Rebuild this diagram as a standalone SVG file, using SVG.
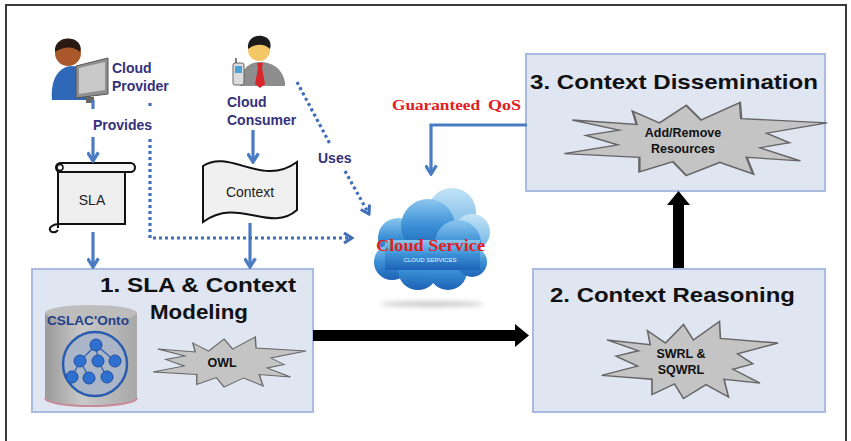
<svg xmlns="http://www.w3.org/2000/svg" width="851" height="441" viewBox="0 0 851 441">
  <defs>
    <style>
      .actor { font-family: "Liberation Sans", Arial, sans-serif; font-weight: bold; font-size: 14px; fill: #35307c; }
      .title { font-family: "Liberation Sans", Arial, sans-serif; font-weight: bold; font-size: 21px; fill: #111; }
      .burst-text { font-family: "Liberation Sans", Arial, sans-serif; font-weight: bold; font-size: 12.5px; fill: #111; text-anchor: middle; }
      .doc-text { font-family: "Liberation Sans", Arial, sans-serif; font-size: 14px; fill: #222; text-anchor: middle; }
      .red-serif { font-family: "Liberation Serif", "Times New Roman", serif; font-weight: bold; fill: #e0201c; }
      .box { fill: #dfe5f1; stroke: #a9bbe0; stroke-width: 2; }
      .burst { fill: #c4c4c4; stroke: #666; stroke-width: 1.8; }
      .flow { fill: none; stroke: #4a7cc3; stroke-width: 3.2; }
      .dots { fill: none; stroke: #3f6db8; stroke-width: 3.2; stroke-dasharray: 3 3; }
    </style>
    <marker id="chev" viewBox="0 0 12 12" refX="10" refY="6" markerWidth="13" markerHeight="13" markerUnits="userSpaceOnUse" orient="auto">
      <path d="M2,1 L10,6 L2,11" fill="none" stroke="#4a7cc3" stroke-width="3"/>
    </marker>
    <marker id="chevDot" viewBox="0 0 12 12" refX="10" refY="6" markerWidth="12" markerHeight="12" markerUnits="userSpaceOnUse" orient="auto">
      <path d="M2,1 L10,6 L2,11" fill="none" stroke="#3f6db8" stroke-width="3"/>
    </marker>
    <path id="burstShape" d="M-45,-38 L-25,-22 L-5,-46 L6,-26 L35,-50 L36,-28 L100,-22 L55,-8 L72,5 L50,12 L80,30 L40,25 L45,48 L20,32 L-5,50 L-15,31 L-40,45 L-40,25 L-96,20 L-56,8 L-80,-5 L-55,-12 L-90,-26 L-42,-20 Z"/>
    <linearGradient id="cloudFront" x1="0" y1="0" x2="0" y2="1">
      <stop offset="0" stop-color="#8cc6ee"/>
      <stop offset="0.5" stop-color="#3a8fd6"/>
      <stop offset="1" stop-color="#1d62b5"/>
    </linearGradient>
    <linearGradient id="cloudBack" x1="0" y1="0" x2="0" y2="1">
      <stop offset="0" stop-color="#c2e3f7"/>
      <stop offset="1" stop-color="#6fb3e4"/>
    </linearGradient>
    <linearGradient id="cyl" x1="0" y1="0" x2="1" y2="0">
      <stop offset="0" stop-color="#9a9a9a"/>
      <stop offset="0.4" stop-color="#c8c8c8"/>
      <stop offset="1" stop-color="#a8a8a8"/>
    </linearGradient>
    <filter id="soft" x="-20%" y="-200%" width="140%" height="500%">
      <feGaussianBlur stdDeviation="2.5"/>
    </filter>
  </defs>

  <rect x="0" y="0" width="851" height="441" fill="#fff"/>
  <!-- frame -->
  <path d="M6,446 V5 H846 V446" fill="none" stroke="#3a3a3a" stroke-width="2"/>

  <!-- cloud provider -->
  <g id="cloud-provider">
    <path d="M52,100 C50,78 60,66 72,66 C84,66 90,74 90,90 L90,100 Z" fill="#2f68b8"/>
    <circle cx="68" cy="53" r="13" fill="#a9582c"/>
    <path d="M55,52 C54,40 66,36 75,40 C80,43 82,48 80,52 C74,46 64,46 55,52 Z" fill="#2a1a12"/>
    <path d="M76,66 L108,58 L108,94 L76,98 Z" fill="#8f8f8f" stroke="#555" stroke-width="1"/>
    <path d="M79,68 L105,62 L105,90 L79,94 Z" fill="#c9c9c9"/>
    <rect x="86" y="97" width="8" height="6" fill="#666"/>
    <text class="actor" x="112" y="73">Cloud</text>
    <text class="actor" x="112" y="91">Provider</text>
  </g>

  <!-- cloud consumer -->
  <g id="cloud-consumer">
    <path d="M240,86 C240,70 248,62 260,62 C272,62 282,68 285,82 L285,86 Z" fill="#8d8d8d"/>
    <path d="M257,63 L263,63 L262,68 L265,84 L260,88 L255,84 L258,68 Z" fill="#d8262a"/>
    <circle cx="259" cy="50" r="11" fill="#f3c766"/>
    <path d="M248,49 C247,38 256,35 262,36 C269,37 272,43 270,49 C265,44 256,43 248,49 Z" fill="#1b1b1b"/>
    <rect x="233" y="63" width="11" height="22" rx="2" fill="#dcdcdc" stroke="#666" stroke-width="1"/>
    <rect x="235" y="66" width="7" height="7" fill="#4aa3d8"/>
    <line x1="236" y1="58" x2="236" y2="63" stroke="#555" stroke-width="1.5"/>
    <text class="actor" x="227" y="107">Cloud</text>
    <text class="actor" x="227" y="125">Consumer</text>
  </g>

  <!-- SLA document -->
  <g id="sla">
    <path d="M58,228 V170 H125 V224 H60" fill="#eeeeee" stroke="#111" stroke-width="2"/>
    <rect x="56" y="163" width="79" height="9" rx="4.5" fill="#f6f6f6" stroke="#111" stroke-width="2"/>
    <circle cx="60" cy="167.5" r="3" fill="none" stroke="#111" stroke-width="1.5"/>
    <path d="M125,224 H60 C52,224 49,228 50,230 C51,233 56,233 58,230" fill="none" stroke="#111" stroke-width="2"/>
    <text class="doc-text" x="92" y="205">SLA</text>
  </g>

  <!-- Context document -->
  <g id="context">
    <path d="M203,166 C230,148 262,188 297,162 V210 C270,234 238,196 203,222 Z" fill="#f0f0f0" stroke="#111" stroke-width="2"/>
    <text class="doc-text" x="250" y="197">Context</text>
  </g>

  <!-- cloud service -->
  <g id="cloud-service">
    <ellipse cx="432" cy="304" rx="52" ry="2.5" fill="#b4b4b4" opacity="0.8" filter="url(#soft)"/>
    <g fill="url(#cloudBack)">
      <circle cx="452" cy="212" r="24"/>
      <circle cx="472" cy="232" r="18"/>
      <circle cx="432" cy="222" r="18"/>
    </g>
    <g fill="url(#cloudFront)">
      <circle cx="398" cy="238" r="20"/>
      <circle cx="428" cy="226" r="27"/>
      <circle cx="458" cy="243" r="23"/>
      <circle cx="392" cy="262" r="18"/>
      <circle cx="418" cy="270" r="20"/>
      <circle cx="448" cy="271" r="19"/>
      <circle cx="472" cy="262" r="15"/>
      <rect x="385" y="240" width="95" height="30"/>
    </g>
    <text x="430" y="262" text-anchor="middle" font-family="'Liberation Sans Narrow', 'Liberation Sans', sans-serif" font-size="6" fill="#e8f2fb">CLOUD SERVICES</text>
    <text class="red-serif" x="376" y="251" font-size="16" textLength="109" lengthAdjust="spacingAndGlyphs">Cloud Service</text>
  </g>

  <!-- phase 1 -->
  <g id="sla-context-modeling">
    <rect class="box" x="32" y="269" width="281" height="143"/>
    <text class="title" x="100" y="292" textLength="196" lengthAdjust="spacingAndGlyphs">1. SLA &amp; Context</text>
    <text class="title" x="150" y="319" textLength="98" lengthAdjust="spacingAndGlyphs">Modeling</text>
    <g id="cslac-onto">
      <path d="M45,313 V398 A46,8 0 0 0 137,398 V313 Z" fill="url(#cyl)"/>
      <path d="M45,398 A46,8 0 0 0 137,398" fill="none" stroke="#c88a98" stroke-width="2"/>
      <ellipse cx="91" cy="313" rx="46" ry="8" fill="#bdbdbd"/>
      <text x="88" y="325" text-anchor="middle" font-family="'Liberation Sans', Arial, sans-serif" font-weight="bold" font-size="12" fill="#26418a" textLength="82" lengthAdjust="spacingAndGlyphs">CSLAC'Onto</text>
      <circle cx="95" cy="364" r="32" fill="#aab6c8" stroke="#2a5db0" stroke-width="2.5"/>
      <g stroke="#2a5db0" stroke-width="1.2">
        <line x1="96" y1="345" x2="80" y2="361"/>
        <line x1="96" y1="345" x2="98" y2="361"/>
        <line x1="96" y1="345" x2="115" y2="361"/>
        <line x1="80" y1="361" x2="72" y2="377"/>
        <line x1="80" y1="361" x2="89" y2="377"/>
        <line x1="98" y1="361" x2="107" y2="377"/>
      </g>
      <g fill="#2f6fd0" stroke="#1e4f9e" stroke-width="1">
        <circle cx="96" cy="345" r="6"/>
        <circle cx="80" cy="361" r="6"/>
        <circle cx="98" cy="361" r="6"/>
        <circle cx="115" cy="361" r="6"/>
        <circle cx="72" cy="377" r="6"/>
        <circle cx="89" cy="378" r="6"/>
        <circle cx="107" cy="377" r="6"/>
      </g>
    </g>
    <use href="#burstShape" class="burst" vector-effect="non-scaling-stroke" transform="translate(228,362) scale(0.78,0.5)"/>
    <text class="burst-text" x="222" y="367">OWL</text>
  </g>

  <!-- phase 2 -->
  <g id="context-reasoning">
    <rect class="box" x="533" y="269" width="292" height="143"/>
    <text class="title" x="550" y="302" textLength="245" lengthAdjust="spacingAndGlyphs">2. Context Reasoning</text>
    <use href="#burstShape" class="burst" vector-effect="non-scaling-stroke" transform="translate(688,360) scale(0.9,0.77)"/>
    <text class="burst-text" x="681" y="358">SWRL &amp;</text>
    <text class="burst-text" x="681" y="374">SQWRL</text>
  </g>

  <!-- phase 3 -->
  <g id="context-dissemination">
    <rect class="box" x="526" y="54" width="299" height="137"/>
    <text class="title" x="530" y="89" textLength="288" lengthAdjust="spacingAndGlyphs">3. Context Dissemination</text>
    <use href="#burstShape" class="burst" vector-effect="non-scaling-stroke" transform="translate(693,139) scale(1.34,0.73)"/>
    <text class="burst-text" x="683" y="137">Add/Remove</text>
    <text class="burst-text" x="683" y="153">Resources</text>
  </g>

  <!-- connectors -->
  <g id="connectors">
    <line class="flow" x1="93" y1="100" x2="93" y2="109"/>
    <line class="flow" x1="93" y1="137" x2="93" y2="161" marker-end="url(#chev)"/>
    <line class="flow" x1="93" y1="232" x2="93" y2="267" marker-end="url(#chev)"/>
    <line class="flow" x1="253" y1="130" x2="253" y2="162" marker-end="url(#chev)"/>
    <line class="flow" x1="250" y1="223" x2="250" y2="267" marker-end="url(#chev)"/>
    <path class="flow" d="M527,125 H431 V174" marker-end="url(#chev)"/>

    <line class="dots" x1="150" y1="103" x2="150" y2="109"/>
    <path class="dots" d="M150,139 V238 H352" marker-end="url(#chevDot)"/>
    <line class="dots" x1="297" y1="82" x2="330" y2="144"/>
    <line class="dots" x1="345" y1="171" x2="369" y2="214" marker-end="url(#chevDot)"/>

    <polygon points="313,330 515,330 515,324 529,335.5 515,347 515,341 313,341" fill="#000"/>
    <polygon points="673,268 673,205 667,205 678.5,191 690,205 684,205 684,268" fill="#000"/>

    <text class="actor" x="93" y="130">Provides</text>
    <text class="actor" x="318" y="163">Uses</text>
    <text class="red-serif" x="392" y="110" font-size="14.5" textLength="88" lengthAdjust="spacingAndGlyphs">Guaranteed</text>
    <text class="red-serif" x="488" y="110" font-size="14.5" textLength="33" lengthAdjust="spacingAndGlyphs">QoS</text>
  </g>
</svg>
